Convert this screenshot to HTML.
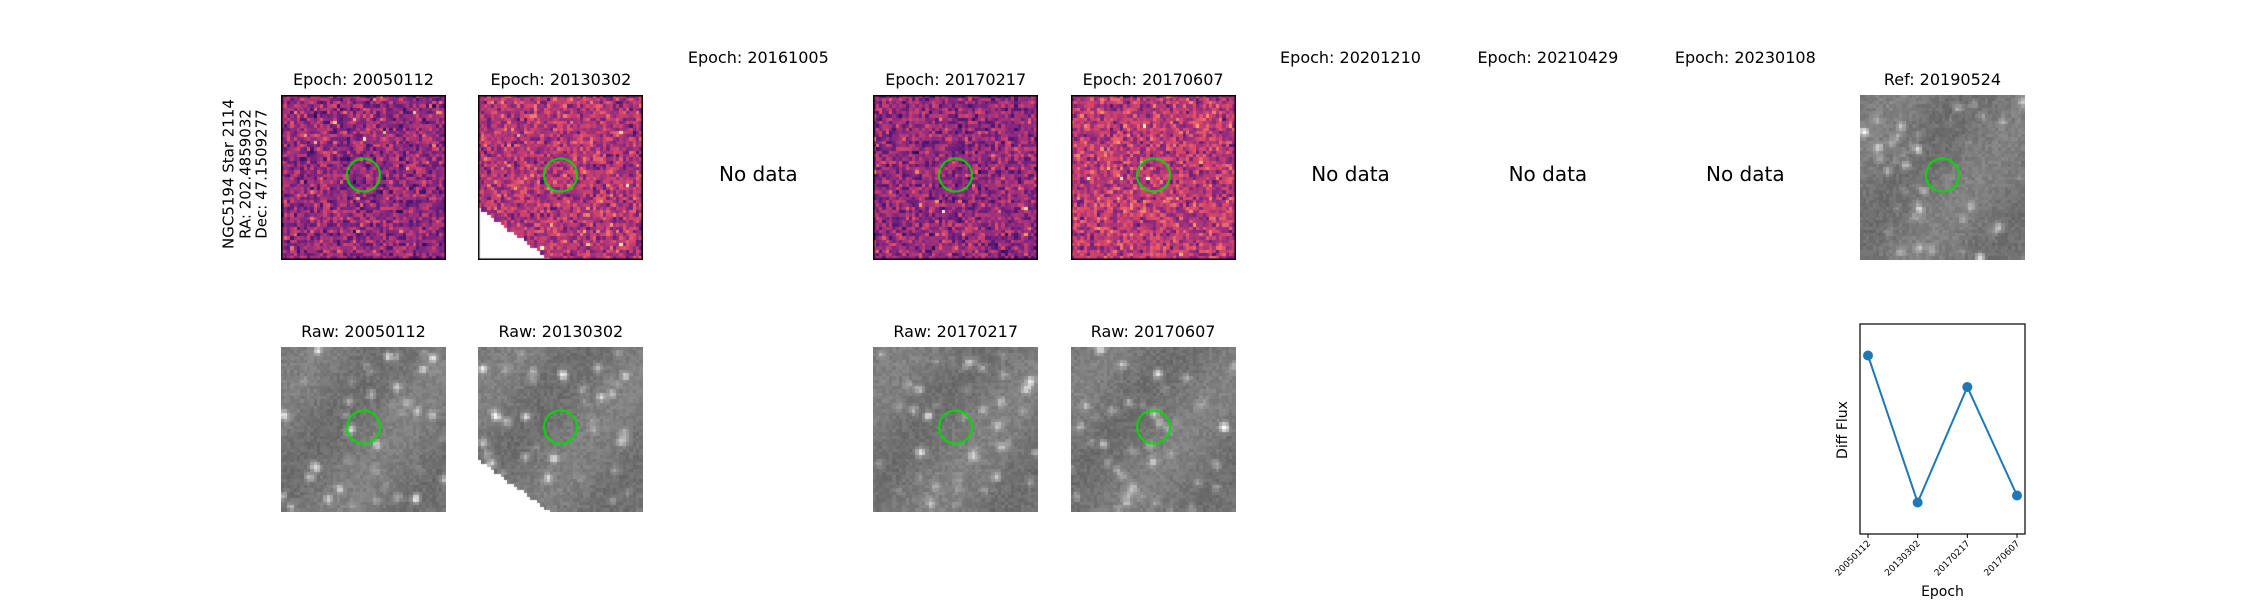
<!DOCTYPE html>
<html><head><meta charset="utf-8">
<style>
body{margin:0;background:#fff;width:2250px;height:600px;overflow:hidden;position:relative;font-family:"DejaVu Sans","Liberation Sans",sans-serif;color:#000}
.t{position:absolute;font-size:16px;text-align:center;width:240px;white-space:nowrap}
.nd{position:absolute;font-size:20px;text-align:center;width:240px}
canvas{position:absolute}
.side{position:absolute;left:245px;top:174px;transform:translate(-50%,-50%) rotate(-90deg);font-size:15px;line-height:16.5px;text-align:center;white-space:nowrap}
</style></head><body>
<div class="side">NGC5194 Star 2114<br>RA: 202.4859032<br>Dec: 47.1509277</div>
<div id="root"></div>
<svg id="lc" width="2250" height="600" style="position:absolute;left:0;top:0"></svg>
<script>
const colX=[281,478.4,675.8,873.2,1070.6,1268,1465.4,1662.8];
const epochs=["20050112","20130302","20161005","20170217","20170607","20201210","20210429","20230108"];
const hasData=[true,true,false,true,true,false,false,false];
const W=165;
let seed=12345;function rnd(){seed=(seed*1103515245+12345)%2147483648;return seed/2147483648;}
const root=document.getElementById('root');
function magma(t){const s=[[0,0,4],[59,15,112],[140,41,129],[222,73,104],[254,159,109],[252,253,191]];t=Math.max(0,Math.min(1,t))*5;const i=Math.min(4,Math.floor(t)),f=t-i;return s[i].map((v,k)=>Math.round(v+(s[i+1][k]-v)*f));}
function panel(x,y,kind,mask,name,bright){
  const c=document.createElement('canvas');c.width=W;c.height=W;c.style.left=x+'px';c.style.top=y+'px';
  
  
  root.appendChild(c);const g=c.getContext('2d');const n=50,p=W/n;
  const img=[];for(let j=0;j<n;j++){img.push([]);for(let i=0;i<n;i++)img[j].push(0);}
  if(kind==='gray'){
    for(let j=0;j<n;j++)for(let i=0;i<n;i++)img[j][i]=120+(rnd()-0.5)*22+10*Math.sin(i/7+j/9);
    for(let s=0;s<45;s++){const cx=rnd()*n,cy=rnd()*n,a=25+rnd()*rnd()*110;
      for(let j=Math.max(0,Math.floor(cy-3));j<Math.min(n,cy+3);j++)for(let i=Math.max(0,Math.floor(cx-3));i<Math.min(n,cx+3);i++){const d=(i-cx)**2+(j-cy)**2;img[j][i]+=a*Math.exp(-d/1.6);}}
  }
  for(let j=0;j<n;j++)for(let i=0;i<n;i++){
    if(mask&&(j/n)>0.67+(i/n)*0.73)continue;
    let col;
    if(kind==='gray'){const v=Math.min(255,img[j][i]);col=[v,v,v].map(Math.round);}
    else{let t=bright+(rnd()+rnd()+rnd()-1.5)*0.2;if(rnd()<0.008)t+=0.3;col=magma(t);}
    g.fillStyle='rgb('+col.join(',')+')';g.fillRect(Math.floor(i*p),Math.floor(j*p),Math.ceil(p)+1,Math.ceil(p)+1);
  }
  if(kind!=='gray'){g.strokeStyle='#000';g.lineWidth=1.5;g.strokeRect(0.75,0.75,W-1.5,W-1.5);}
  g.strokeStyle='#00e000';g.lineWidth=2;g.beginPath();g.arc(W*0.5,W*0.485,16.5,0,Math.PI*2);g.stroke();
}
function label(x,y,txt,cls,name){const d=document.createElement('div');d.className=cls;d.style.left=(x+W/2-120)+'px';d.style.top=y+'px';d.textContent=txt;
  
  
  root.appendChild(d);}
epochs.forEach((e,k)=>{const x=colX[k];
  if(hasData[k]){label(x,70,'Epoch: '+e,'t','epoch-title');
    panel(x,95,'diff',e==='20130302','diff-image',e==='20170607'?0.52:(e==='20130302'?0.5:0.42));
    label(x,322,'Raw: '+e,'t','raw-title');panel(x,347,'gray',e==='20130302','raw-image');}
  else{label(x,48,'Epoch: '+e,'t','epoch-title');label(x,162,'No data','nd','no-data-text');}
});
label(1860,70,'Ref: 20190524','t','ref-title');panel(1860,95,'gray',false,'ref-image');
</script>
<script>
const fluxEpochs=["20050112","20130302","20170217","20170607"];
const fluxValues=[0.92,0.08,0.74,0.12];
const svg=document.getElementById('lc');const NS='http://www.w3.org/2000/svg';
const ax={l:1860,r:2025,t:324,b:534};
const yMin=-0.1,yMax=1.1;
const xs=i=>ax.l+8+i*(ax.r-ax.l-16)/(fluxEpochs.length-1);
const ys=v=>ax.b-(v-yMin)/(yMax-yMin)*(ax.b-ax.t);
function el(t,a,nm){const e=document.createElementNS(NS,t);for(const k in a)e.setAttribute(k,a[k]);
  
  
  svg.appendChild(e);return e;}
el('rect',{x:ax.l,y:ax.t,width:ax.r-ax.l,height:ax.b-ax.t,fill:'none',stroke:'#000','stroke-width':1.2},'plot-frame');
el('polyline',{points:fluxValues.map((v,i)=>xs(i)+','+ys(v)).join(' '),fill:'none',stroke:'#1f77b4','stroke-width':2},'flux-line');
fluxValues.forEach((v,i)=>{el('circle',{cx:xs(i),cy:ys(v),r:5,fill:'#1f77b4'},'flux-point');
  el('line',{x1:xs(i),x2:xs(i),y1:ax.b,y2:ax.b+4,stroke:'#000'},'x-tick');
  const t=el('text',{x:xs(i)+3,y:ax.b+10,'font-size':9,'text-anchor':'end',transform:'rotate(-45 '+(xs(i)+3)+' '+(ax.b+10)+')','font-family':'DejaVu Sans,sans-serif'},'x-tick-label');t.textContent=fluxEpochs[i];});
const xl=el('text',{x:(ax.l+ax.r)/2,y:596,'font-size':14,'text-anchor':'middle','font-family':'DejaVu Sans,sans-serif'},'x-axis-title');xl.textContent='Epoch';
const yl=el('text',{x:1847,y:430,'font-size':14,'text-anchor':'middle',transform:'rotate(-90 1847 430)','font-family':'DejaVu Sans,sans-serif'},'y-axis-title');yl.textContent='Diff Flux';
</script>
</body></html>
